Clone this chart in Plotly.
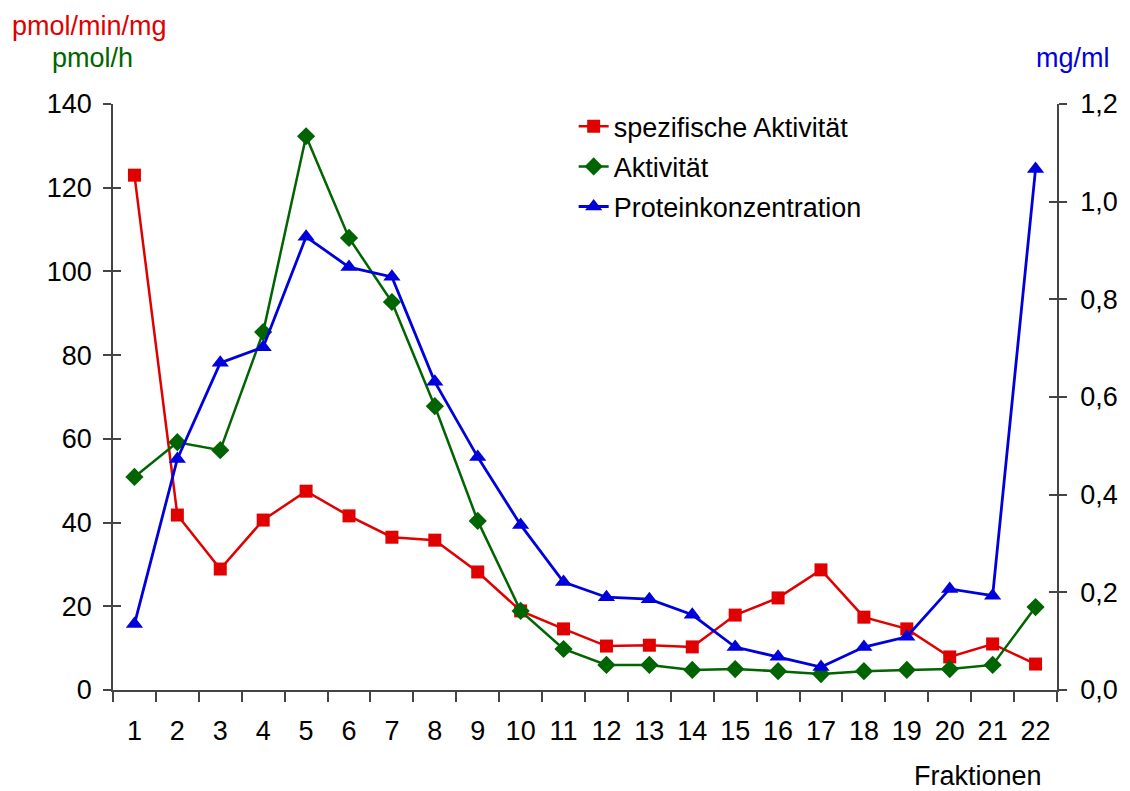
import plotly.graph_objects as go

fractions = [str(i) for i in range(1, 23)]
spez_aktivitaet = [123.0, 41.8, 28.9, 40.6, 47.5, 41.6, 36.5, 35.8, 28.2, 18.9, 14.6,
                   10.5, 10.7, 10.3, 17.9, 22.0, 28.7, 17.4, 14.6, 7.9, 11.0, 6.2]
aktivitaet = [50.9, 59.2, 57.3, 85.5, 132.3, 108.0, 92.7, 67.8, 40.4, 18.9, 9.8,
              6.0, 6.0, 4.8, 5.0, 4.5, 3.8, 4.5, 4.8, 5.0, 6.0, 19.8]
protein = [0.135, 0.473, 0.670, 0.702, 0.928, 0.866, 0.846, 0.631, 0.477, 0.338, 0.221,
           0.190, 0.186, 0.154, 0.088, 0.068, 0.047, 0.088, 0.109, 0.207, 0.193, 1.067]

RED = "#e00000"
GREEN = "#006400"
BLUE = "#0000dd"
AX = "#444444"
FONT = "Liberation Sans, Arial, sans-serif"
FS = 27

# page has an 8px body margin; the figure is offset by it
OFF = 8
W, H = 1130 - OFF, 791 - OFF
ML, MR, MT, MB = 113 - OFF, 67, 104 - OFF, 101

fig = go.Figure()
fig.add_trace(go.Scatter(x=fractions, y=spez_aktivitaet, name="spezifische Aktivität",
                         legendgroup="a",
                         mode="lines+markers", line=dict(color=RED, width=2.5),
                         marker=dict(symbol="square", size=13, color=RED), yaxis="y"))
fig.add_trace(go.Scatter(x=fractions, y=aktivitaet, name="Aktivität",
                         legendgroup="b",
                         mode="lines+markers", line=dict(color=GREEN, width=2.5),
                         marker=dict(symbol="diamond", size=14, color=GREEN), yaxis="y"))
fig.add_trace(go.Scatter(x=fractions, y=protein, name="Proteinkonzentration",
                         legendgroup="c",
                         mode="lines+markers", line=dict(color=BLUE, width=2.8),
                         marker=dict(symbol="triangle-up", size=15, color=BLUE), yaxis="y2"))
# invisible helpers for the inner half of crossing ticks
fig.add_trace(go.Scatter(x=fractions[:1], y=[0], yaxis="y3", mode="lines",
                         showlegend=False, hoverinfo="skip", opacity=0))
fig.add_trace(go.Scatter(x=fractions[:1], y=[0], yaxis="y4", mode="lines",
                         showlegend=False, hoverinfo="skip", opacity=0))

common_y = dict(showgrid=False, zeroline=False, showline=True, linecolor=AX, linewidth=1.5,
                tickcolor=AX, tickwidth=1.5, ticklen=8,
                tickfont=dict(family=FONT, size=FS, color="black"))

fig.update_layout(
    width=W, height=H,
    margin=dict(l=ML, r=MR, t=MT, b=MB),
    paper_bgcolor="white", plot_bgcolor="white",
    separators=",.",
    font=dict(family=FONT, size=FS, color="black"),
    xaxis=dict(type="category", showgrid=False, zeroline=False, showline=True,
               linecolor=AX, linewidth=1.5, ticks="outside", tickson="boundaries",
               ticklen=10, tickcolor=AX, tickwidth=1.5, range=[-0.5, 21.5],
               tickfont=dict(family=FONT, size=FS, color="black"),
               ticklabelstandoff=16),
    yaxis=dict(range=[0, 140], dtick=20, ticks="outside", ticklabelstandoff=6, **common_y),
    yaxis2=dict(range=[0, 1.2], dtick=0.2, tickformat=".1f", overlaying="y", side="right",
                ticks="outside", ticklabelstandoff=8, **common_y),
    yaxis3=dict(range=[0, 140], dtick=20, overlaying="y", side="left", ticks="inside",
                showticklabels=False, **common_y),
    yaxis4=dict(range=[0, 1.2], dtick=0.2, overlaying="y", side="right", ticks="inside",
                showticklabels=False, **common_y),
    legend=dict(x=0.488, y=1.003, xanchor="left", yanchor="top",
                bgcolor="rgba(0,0,0,0)", font=dict(family=FONT, size=FS, color="black"),
                tracegroupgap=2),
    showlegend=True,
)

annots = [
    dict(text="pmol/min/mg", x=9, y=26, xanchor="left", color=RED),
    dict(text="pmol/h", x=50, y=58, xanchor="left", color=GREEN),
    dict(text="mg/ml", x=1118, y=58, xanchor="right", color=BLUE),
    dict(text="Fraktionen", x=983, y=776, xanchor="center", color="black"),
]
pw, ph = W - ML - MR, H - MT - MB
for a in annots:
    fig.add_annotation(text=a["text"],
                       x=(a["x"] - OFF - ML) / pw,
                       y=(H - MB - (a["y"] - OFF)) / ph,
                       xref="paper", yref="paper", showarrow=False,
                       xanchor=a["xanchor"], yanchor="middle",
                       font=dict(family=FONT, size=FS, color=a["color"]))

fig.write_html("out.html")
